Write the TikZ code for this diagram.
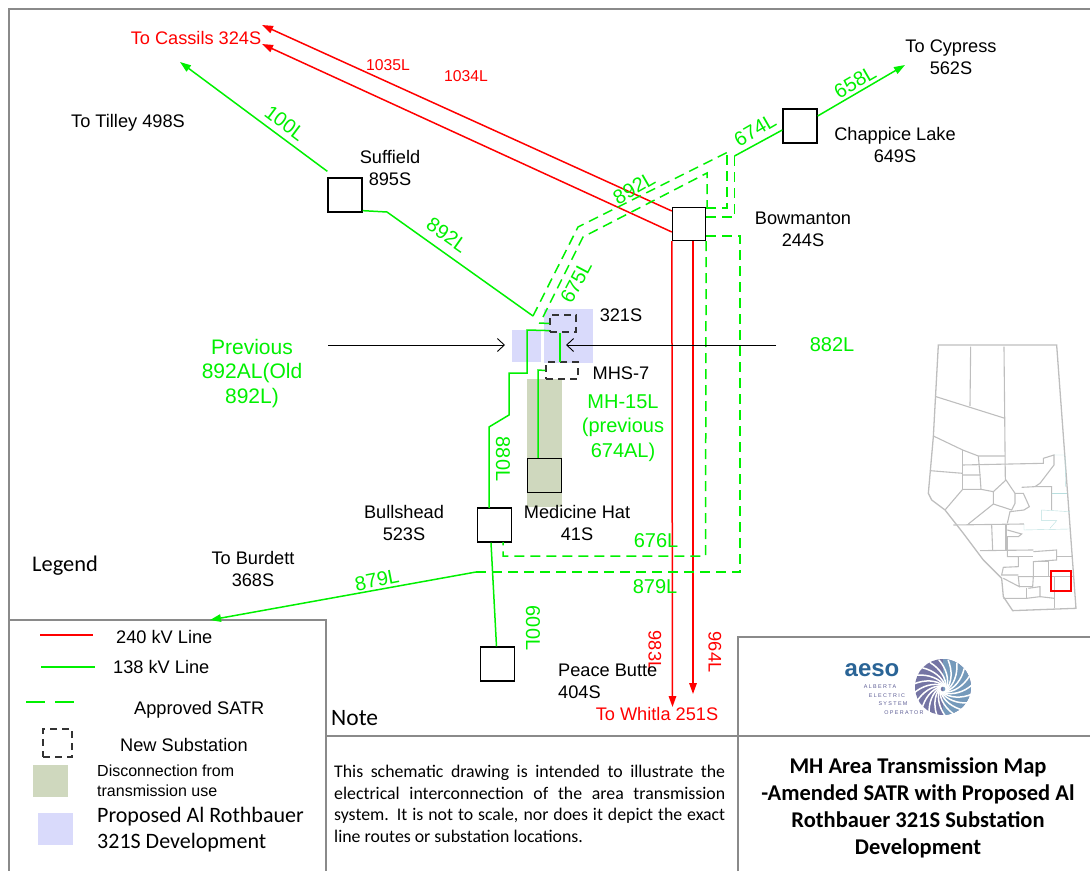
\documentclass[tikz,border=0pt]{standalone}
\usepackage{xcolor}
\usepackage{fontspec}
\setmainfont{Liberation Sans}
\newfontfamily\calfont{Carlito}
\newfontfamily\logofont[LetterSpace=25]{Liberation Sans}
\usepackage{tikz}
\usetikzlibrary{arrows.meta,positioning,calc}
\definecolor{lineGreen}{HTML}{00F000}
\definecolor{lineRed}{HTML}{FF0000}
\definecolor{frameGrey}{HTML}{8A8A8A}
\definecolor{mapGrey}{HTML}{BEBEBE}
\definecolor{mapTeal}{HTML}{B8DEDE}
\definecolor{disconFill}{HTML}{CFD8BE}
\definecolor{proposedFill}{HTML}{D9DAFB}
\definecolor{aesoBlue}{HTML}{2A6496}
\definecolor{aesoPurple}{HTML}{5C5C94}
\tikzset{
  substation/.style={draw=black,line width=1.3pt,minimum size=34pt,inner sep=0pt,fill=white},
  newsub/.style={draw=black!80,line width=1.2pt,dash pattern=on 7pt off 5pt,inner sep=0pt},
  sublabel/.style={inner sep=0pt,align=center,font=\fontsize{18.2}{22}\selectfont},
  greenlabel/.style={sublabel,text=lineGreen,font=\fontsize{20}{24}\selectfont},
  redlabel/.style={sublabel,text=lineRed},
  greenline/.style={lineGreen,line width=1.5pt},
  greendash/.style={lineGreen,line width=1.5pt,dash pattern=on 10pt off 6pt},
  redline/.style={lineRed,line width=1.5pt},
  frameline/.style={frameGrey,line width=2pt},
  maproad/.style={mapGrey,line width=1.1pt},
  keytext/.style={inner sep=0pt,anchor=west,align=left,font=\fontsize{18.2}{21}\selectfont},
  caltext/.style={inner sep=0pt,anchor=west,align=left,font=\calfont\fontsize{22.4}{26}\selectfont},
  logotext/.style={inner sep=0pt,text=aesoPurple,font=\logofont\fontsize{5.4}{6}\selectfont},
}
\begin{document}
\begin{tikzpicture}[x=1pt,y=-1pt,>={Triangle[length=11pt,width=7.5pt]}]
  \useasboundingbox (0,0) rectangle (1090,871);

  % shaded areas
  \fill[proposedFill] (544,309) rectangle (593,363);
  \fill[proposedFill] (512,330) rectangle (541,362);
  \fill[disconFill] (527,379) rectangle (562,507);

  % frame
  \draw[frameline] (1090,9) -- (9,9) -- (9,871);
  \draw[frameline] (9,620) -- (326,620) -- (326,871);
  \draw[frameline] (326,736) -- (1090,736);
  \draw[frameline] (738,871) -- (738,637) -- (1090,637);

  % substations
  \node[substation] (suffield) at (345,195) {};
  \node[substation] (chappice) at (800,126) {};
  \node[substation,minimum size=33pt] (bowmanton) at (689,224) {};
  \node[substation,fill=none] (medhat) at (544.5,475.5) {};
  \node[substation] (bullshead) at (494.5,525) {};
  \node[substation] (peacebutte) at (497.5,664) {};
  \node[newsub,minimum width=26pt,minimum height=17pt] (mainsub) at (563,323.5) {};
  \node[newsub,minimum width=32pt,minimum height=17pt] (mhssub) at (562,370.5) {};

  % line ends
  \coordinate (cassilsA) at (262,25);
  \coordinate (cassilsB) at (262,44);
  \coordinate (whitlaA) at (672.5,707);
  \coordinate (whitlaB) at (693,694);
  \coordinate (tilley) at (180,62);
  \coordinate (cypress) at (905,65);
  \coordinate (burdett) at (210,620);
  \coordinate (tap) at (476,572);
  \coordinate (westgap) at (505,345);
  \coordinate (westend) at (328,345);
  \coordinate (eastgap) at (566,345);
  \coordinate (eastend) at (776,345);

  % 240 kV
  \draw[->,redline] ([yshift=13pt]bowmanton.west) -- (cassilsA);
  \draw[->,redline] ([yshift=-8pt]bowmanton.west) -- (cassilsB);
  \draw[->,redline] (bowmanton.south west) -- (whitlaA);
  \draw[->,redline] ([xshift=4pt]bowmanton.south) -- (whitlaB);

  % 138 kV
  \draw[->,greenline] ([yshift=6pt]suffield.north west) -- (tilley);
  \draw[greenline] ([yshift=2pt]suffield.south east) -- (387,212) -- (533,316);
  \draw[greenline,->] ([yshift=10pt]chappice.east) -- (cypress);
  \draw[greenline] ([yshift=-4pt]chappice.west) -- (734.5,156);
  \draw[greenline] ([yshift=2pt]mainsub.south west) -- (527,330) -- (527,373) -- (509,373)
    -- (509,415) -- (489,427) -- (489,508);
  \draw[greenline] ([xshift=-3.5pt]bullshead.south) -- ([xshift=-1pt]peacebutte.north);
  \draw[greenline] (539,323) -- (mainsub.west);
  \draw[greenline,line width=1.7pt] ([xshift=-3pt]mainsub.south) -- (560,362);
  \draw[greenline] ([xshift=-6.5pt]medhat.north) -- (538,370) -- (mhssub.west);
  \draw[->,greenline] (tap) -- (burdett);

  % approved SATR
  \draw[greendash] (533,316) -- (578,227) -- (730,151);
  \draw[greendash] (727,155) -- (727,208) -- ([yshift=16pt]bowmanton.east);
  \draw[greendash] (543,317) -- (583,237) -- (707,173) -- (707,207);
  \draw[greendash] (734.5,156) -- (734.5,217) -- ([yshift=7pt]bowmanton.east);
  \draw[greendash] ([yshift=-12pt]bowmanton.east) -- (740,236) -- (740,572) -- (tap);
  \draw[greendash] (bowmanton.south east) -- (705.5,556) -- (503,556) -- (503,542);

  % breakers
  \draw[-{Straight Barb[length=7pt,width=13pt]},line width=.9pt] (westend) -- (westgap);
  \draw[-{Straight Barb[length=7pt,width=13pt]},line width=.9pt] (eastend) -- (eastgap);

  % line numbers
  \foreach \x/\y/\rot/\lab in {285/123/-37/100L,447/235/-35/892L,576/282/62/675L,634/188/30/892L,
    755/130/30/674L,855/82/30/658L,503/459/-90/880L,533/628/-90/600L,377/580/11/879L,
    656/541/0/676L,655/587/0/879L,832/345/0/882L} {
    \node[greenlabel,rotate=\rot] (num\x) at (\x,\y) {\lab};
  }
  \foreach \x/\y/\rot/\lab in {655/651/-90/983L,715/652/-90/964L} {
    \node[redlabel,rotate=\rot] (num\x) at (\x,\y) {\lab};
  }
  \node[redlabel,font=\fontsize{15.7}{18}\selectfont] (num1035) at (388,65) {1035L};
  \node[redlabel,font=\fontsize{15.7}{18}\selectfont] (num1034) at (466,76) {1034L};

  % names
  \node[redlabel] (cassils) at (196,38) {To Cassils 324S};
  \node[redlabel] (whitla) at (657,714) {To Whitla 251S};
  \node[sublabel] (tilleylab) at (128,123) {To Tilley 498S};
  \node[sublabel] (suffieldlab) at (390,168) {Suffield\\895S};
  \node[sublabel] (cypresslab) at (951,57) {To Cypress\\562S};
  \node[sublabel] (chappicelab) at (895,145) {Chappice Lake\\649S};
  \node[sublabel] (bowmantonlab) at (803,229) {Bowmanton\\244S};
  \node[sublabel] (mainlab) at (621,315) {321S};
  \node[sublabel] (mhslab) at (621,373) {MHS-7};
  \node[sublabel] (bullsheadlab) at (404,523) {Bullshead\\523S};
  \node[sublabel] (medhatlab) at (577,523) {Medicine Hat\\41S};
  \node[sublabel] (burdettlab) at (253,569) {To Burdett\\368S};
  \node[sublabel,align=left,anchor=west] (peacelab) at (558,681) {Peace Butte\\404S};
  \node[greenlabel,font=\fontsize{21}{24.5}\selectfont] (prevlab) at (252,373.5) {Previous\\892AL(Old\\892L)};
  \node[greenlabel,font=\fontsize{20}{24.5}\selectfont] (mh15lab) at (623,428) {MH-15L\\(previous\\674AL)};

  % legend
  \coordinate (keyRa) at (40,635);
  \coordinate (keyRb) at (93,635);
  \coordinate (keyGa) at (41,667);
  \coordinate (keyGb) at (95,667);
  \coordinate (keyDa) at (26,702);
  \coordinate (keyDb) at (74,702);
  \node[caltext] (legendlab) at (32,566) {Legend};
  \node[caltext,font=\calfont\fontsize{23.5}{26}\selectfont] (notelab) at (331,718) {Note};
  \draw[redline] (keyRa) -- (keyRb);
  \draw[greenline] (keyGa) -- (keyGb);
  \draw[lineGreen,line width=1.6pt,dash pattern=on 19pt off 10pt] (keyDa) -- (keyDb);
  \node[newsub,minimum width=29pt,minimum height=28pt] (keysub) at (57.5,743) {};
  \fill[disconFill] (33,765) rectangle (68,797);
  \fill[proposedFill] (38,813) rectangle (73,845);
  \node[keytext] (key240) at (116,637) {240 kV Line};
  \node[keytext] (key138) at (113,667) {138 kV Line};
  \node[keytext] (keysatr) at (134,709.5) {Approved SATR};
  \node[keytext] (keynew) at (120,745) {New Substation};
  \node[keytext,font=\fontsize{16}{19.5}\selectfont] (keydis) at (97,781) {Disconnection from\\transmission use};
  \node[caltext,font=\calfont\fontsize{22}{26}\selectfont] (keyprop) at (97,830) {Proposed Al Rothbauer\\321S Development};

  % note and title
  \node[inner sep=0pt,anchor=north west,text width=391pt,align=justify,
    font=\calfont\fontsize{17.8}{21.7}\selectfont] (notetext) at (334,765)
    {This schematic drawing is intended to illustrate the\linebreak electrical interconnection of the area transmission\linebreak system. It is not to scale, nor does it depict the exact\linebreak line routes or substation locations.};
  \node[inner sep=0pt,align=center,font=\calfont\bfseries\fontsize{22.5}{27}\selectfont] (titletext) at (918,807.5)
    {MH Area Transmission Map\\-Amended SATR with Proposed Al\\Rothbauer 321S Substation\\Development};

  % logo
  \node[inner sep=0pt,text=aesoBlue,font=\bfseries\fontsize{24}{24}\selectfont] (aesolab) at (872,670) {aeso};
  \node[logotext] (logoa) at (880,687) {ALBERTA};
  \node[logotext] (logob) at (887,696) {ELECTRIC};
  \node[logotext] (logoc) at (893,704) {SYSTEM};
  \node[logotext] (logod) at (904,713) {OPERATOR};
  \fill[aesoPurple!85] (943,687) circle (28);
  \fill[aesoBlue!65] (943,715) arc (90:270:-28 and 28) -- cycle;
  \foreach \a in {0,18,...,342} {
    \begin{scope}[shift={(943,689)},rotate=\a]
      \draw[white,line width=1.5pt,line cap=round] (0,3) .. controls (9,7) and (21,3) .. (29,-4);
    \end{scope}
  }

  % province map
  \begin{scope}[shift={(900,330)},x=.3333pt,y=-.3333pt]
    \draw[maproad,line width=1.3pt] (115,45) -- (470,45) -- (505,520) -- (528,835) -- (338,842)
      -- (310,800) -- (305,745) -- (250,690) -- (190,610) -- (135,540) -- (95,510) -- (85,490)
      -- (100,320) -- cycle;
    \draw[maproad] (212,50) -- (210,228);
    \draw[maproad] (312,50) -- (316,450);
    \draw[maproad] (108,200) -- (315,265);
    \draw[maproad] (100,318) -- (188,360) -- (235,378) -- (315,378);
    \draw[maproad] (188,360) -- (188,478);
    \draw[maproad] (90,422) -- (188,430);
    \draw[maproad] (188,405) -- (430,400) -- (430,385) -- (462,375) -- (462,405) -- (420,460) -- (405,470);
    \draw[maproad] (188,435) -- (240,435) -- (243,478) -- (188,478) -- (135,540);
    \draw[maproad] (235,378) -- (240,435);
    \draw[maproad] (243,478) -- (280,485) -- (318,450) -- (345,490) -- (345,520) -- (335,540) -- (280,522) -- (280,485);
    \draw[maproad] (280,522) -- (205,582);
    \draw[maproad] (160,585) -- (372,582);
    \draw[maproad] (345,490) -- (370,490) -- (388,530) -- (372,540) -- (330,545) -- (322,580);
    \draw[maproad] (365,472) -- (405,470) -- (455,470) -- (455,540);
    \draw[mapTeal] (462,375) -- (495,375) -- (497,470);
    \draw[mapTeal] (455,490) -- (500,490);
    \draw[mapTeal] (425,540) -- (510,545);
    \draw[mapTeal] (425,540) -- (425,572) -- (470,572) -- (450,595);
    \draw[mapTeal] (372,582) -- (372,600) -- (510,597);
    \draw[maproad] (275,585) -- (278,662);
    \draw[maproad] (318,585) -- (318,662);
    \draw[maproad] (240,662) -- (400,660);
    \draw[maproad] (322,600) -- (365,612) -- (355,620) -- (322,620) -- (322,680) -- (355,680) -- (355,710) -- (310,712) -- (305,735) -- (355,735);
    \draw[maproad] (400,665) -- (470,660) -- (470,690) -- (400,695) -- (400,740) -- (355,740) -- (358,770) -- (310,745);
    \draw[maproad] (470,680) -- (520,680);
    \draw[maproad] (355,680) -- (400,680);
    \draw[maproad] (400,695) -- (445,695) -- (445,740);
    \draw[maproad] (400,740) -- (520,740);
    \draw[maproad] (400,740) -- (398,770) -- (358,770);
    \draw[maproad] (385,775) -- (420,770) -- (420,800) -- (380,805) -- (310,805);
    \draw[maproad] (380,775) -- (380,805);
    \draw[maproad] (463,740) -- (463,835);
    \draw[maproad] (420,800) -- (463,805);
    \draw[lineRed,line width=1.8pt] (454,722) rectangle (513,782);
  \end{scope}
\end{tikzpicture}
\end{document}
